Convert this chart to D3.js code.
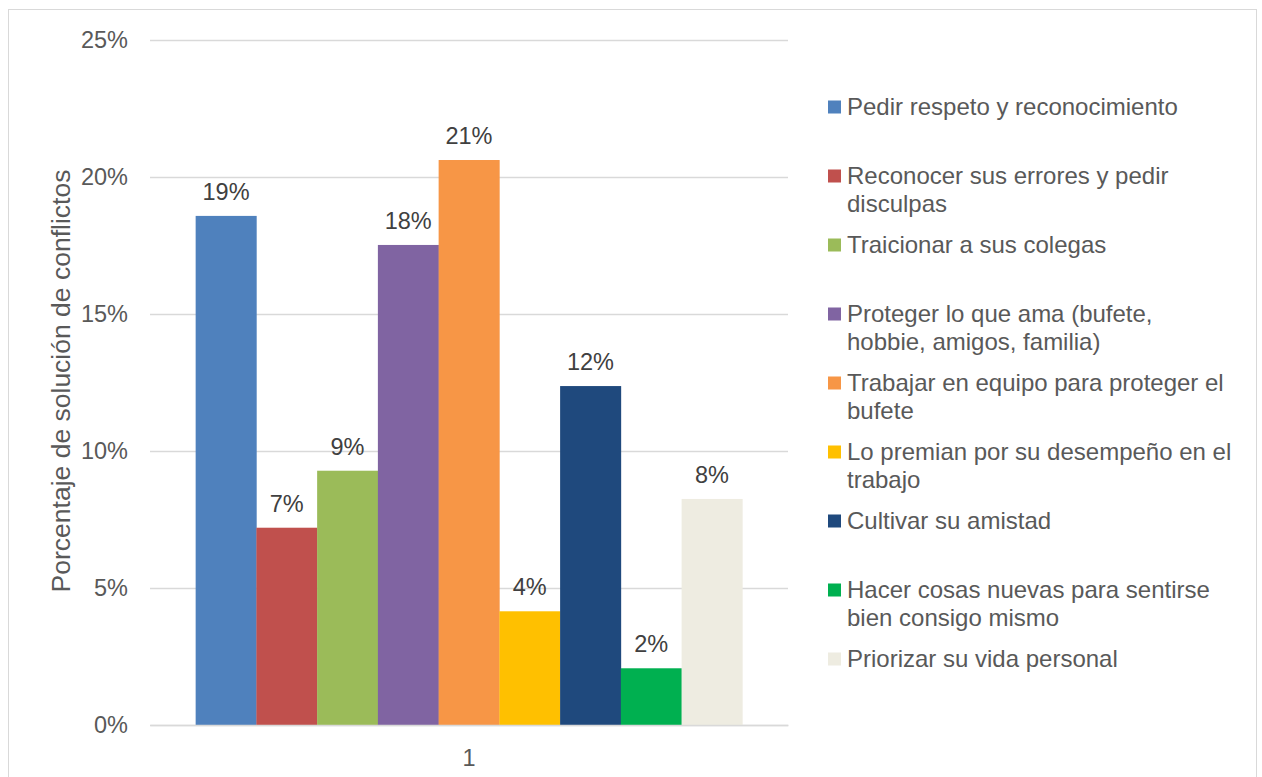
<!DOCTYPE html>
<html lang="es">
<head>
<meta charset="UTF-8">
<title>Solución de conflictos</title>
<style>
  html,body{margin:0;padding:0;background:#fff;}
  svg{display:block;font-family:"Liberation Sans",Arial,sans-serif;}
</style>
</head>
<body>
<svg id="chart" width="1262" height="777"></svg>
<script src="https://cdn.jsdelivr.net/npm/d3@7"></script>
<script>
// data
var categories = ["1"]
var series = [
  "Pedir respeto y reconocimiento",
  "Reconocer sus errores y pedir disculpas",
  "Traicionar a sus colegas",
  "Proteger lo que ama (bufete, hobbie, amigos, familia)",
  "Trabajar en equipo para proteger el bufete",
  "Lo premian por su desempeño en el trabajo",
  "Cultivar su amistad",
  "Hacer cosas nuevas para sentirse bien consigo mismo",
  "Priorizar su vida personal"
]
var values = [0.1858, 0.072, 0.0928, 0.1752, 0.2062, 0.0415, 0.1237, 0.0207, 0.0825]
var legendLines = [
  ["Pedir respeto y reconocimiento"],
  ["Reconocer sus errores y pedir", "disculpas"],
  ["Traicionar a sus colegas"],
  ["Proteger lo que ama (bufete,", "hobbie, amigos, familia)"],
  ["Trabajar en equipo para proteger el", "bufete"],
  ["Lo premian por su desempeño en el", "trabajo"],
  ["Cultivar su amistad"],
  ["Hacer cosas nuevas para sentirse", "bien consigo mismo"],
  ["Priorizar su vida personal"]
]
var yTicks = [0, 0.05, 0.10, 0.15, 0.20, 0.25]
var colors = ["#4F81BD","#C0504D","#9BBB59","#8064A2","#F79646","#FFC000","#1F497D","#00B050","#EEECE1"]
var yTitle = "Porcentaje de solución de conflictos"

var width = 1262, height = 777
var margin = {top: 40, right: 474, bottom: 52, left: 150}
var svg = d3.select('#chart')

// chart frame
svg.append('rect').attr('x', 8.5).attr('y', 9.5).attr('width', 1248).attr('height', 800)
  .attr('fill', '#fff').attr('stroke', '#D9D9D9').attr('stroke-width', 1)

var x0 = d3.scaleBand().domain(categories).range([margin.left, width - margin.right])
  .paddingInner(0).paddingOuter(0.0835)
var x1 = d3.scaleBand().domain(series).range([0, x0.bandwidth()])
var y = d3.scaleLinear().domain([0, 0.25]).range([725, margin.top])

var fmt = d3.format('.0%')

// gridlines
var yAxis = g => g.attr('transform', `translate(${margin.left},0)`)
  .call(d3.axisLeft(y).tickValues(yTicks).tickFormat(fmt).tickSize(-(width - margin.right - margin.left)).tickPadding(22))
  .call(g => g.select('.domain').remove())
  .call(g => g.selectAll('.tick line').attr('stroke', '#D9D9D9').attr('stroke-width', 1.3))
  .call(g => g.selectAll('.tick text').attr('fill', '#595959').attr('font-size', 23.5)
    .attr('font-family', '"Liberation Sans",Arial,sans-serif'))
svg.append('g').call(yAxis)

// bars
var grp = svg.append('g').selectAll('g').data(categories).join('g')
  .attr('transform', d => `translate(${x0(d)},0)`)
grp.selectAll('rect').data(series.map((s, i) => ({s: s, v: values[i], c: colors[i]})))
  .join('rect')
  .attr('x', d => x1(d.s)).attr('width', x1.bandwidth() + 0.3)
  .attr('y', d => y(d.v)).attr('height', d => y(0) - y(d.v))
  .attr('fill', d => d.c)

// data labels
grp.selectAll('text.lbl').data(series.map((s, i) => ({s: s, v: values[i]})))
  .join('text').attr('class', 'lbl')
  .attr('x', d => x1(d.s) + x1.bandwidth() / 2).attr('y', d => y(d.v) - 16)
  .attr('text-anchor', 'middle').attr('font-size', 23.5).attr('fill', '#404040')
  .text(d => fmt(d.v))

// x axis baseline + category label
var xAxis = g => g.attr('transform', `translate(0,${y(0)})`)
  .call(d3.axisBottom(x0).tickSize(0).tickPadding(24))
  .call(g => g.select('.domain').attr('stroke', '#D9D9D9').attr('stroke-width', 1.3))
  .call(g => g.selectAll('.tick text').attr('fill', '#595959').attr('font-size', 23.5)
    .attr('font-family', '"Liberation Sans",Arial,sans-serif'))
svg.append('g').call(xAxis)

// y title
svg.append('text').attr('transform', `translate(70,381) rotate(-90)`)
  .attr('text-anchor', 'middle').attr('font-size', 26.5).attr('fill', '#595959')
  .text(yTitle)

// legend
var leg = svg.append('g').selectAll('g').data(legendLines).join('g')
  .attr('transform', (d, i) => `translate(828,${107 + i * 69})`)
leg.append('rect').attr('x', 0).attr('y', -6.5).attr('width', 13).attr('height', 13)
  .attr('fill', (d, i) => colors[i])
leg.append('text').attr('font-size', 24).attr('fill', '#595959')
  .selectAll('tspan').data(d => d).join('tspan')
  .attr('x', 19).attr('y', (d, i) => 8 + i * 28)
  .text(d => d)
</script>
</body>
</html>
